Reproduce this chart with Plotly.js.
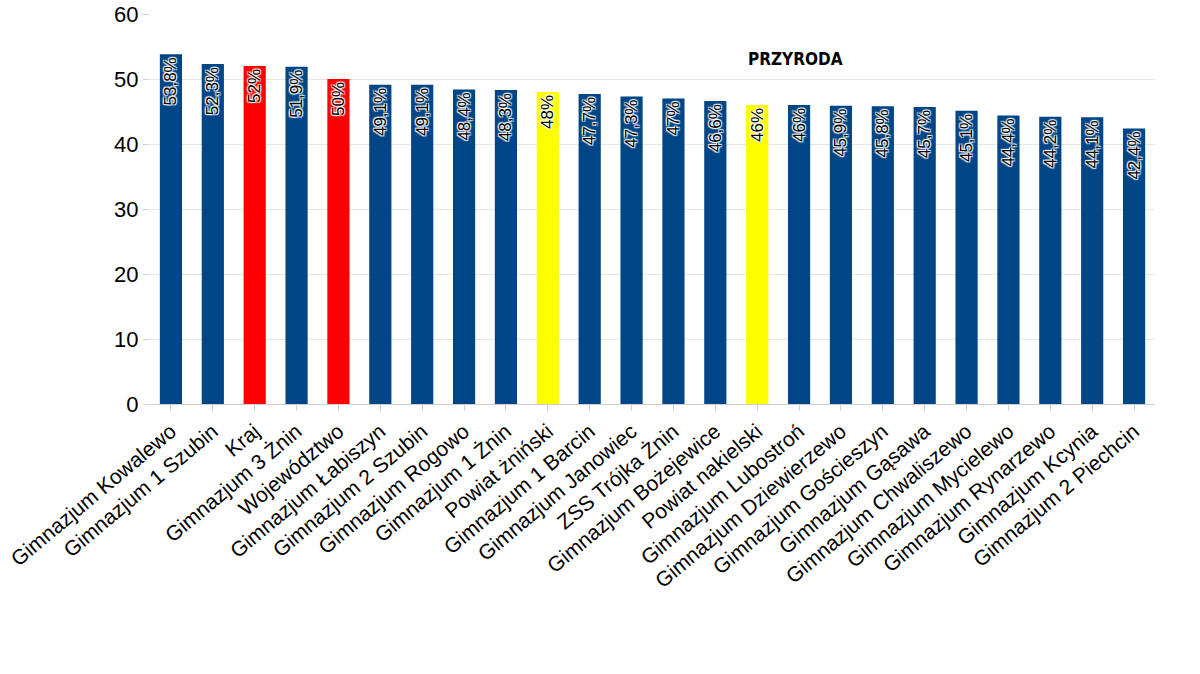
<!DOCTYPE html>
<html>
<head>
<meta charset="utf-8">
<script src="https://cdn.plot.ly/plotly-3.0.1.min.js"></script>
<style>body{margin:0;background:#fff}#plot{width:1200px;height:674px}</style>
</head>
<body>
<div id="plot"></div>
<script>
var categories = ["Gimnazjum Kowalewo", "Gimnazjum 1 Szubin", "Kraj", "Gimnazjum 3 Żnin", "Województwo",
  "Gimnazjum Łabiszyn", "Gimnazjum 2 Szubin", "Gimnazjum Rogowo", "Gimnazjum 1 Żnin", "Powiat żniński",
  "Gimnazjum 1 Barcin", "Gimnazjum Janowiec", "ZSS Trójka Żnin", "Gimnazjum Bożejewice", "Powiat nakielski",
  "Gimnazjum Lubostroń", "Gimnazjum Dziewierzewo", "Gimnazjum Gościeszyn", "Gimnazjum Gąsawa",
  "Gimnazjum Chwaliszewo", "Gimnazjum Mycielewo", "Gimnazjum Rynarzewo", "Gimnazjum Kcynia", "Gimnazjum 2 Piechcin"];
var values = [53.8, 52.3, 52, 51.9, 50, 49.1, 49.1, 48.4, 48.3, 48, 47.7, 47.3, 47, 46.6, 46, 46, 45.9, 45.8, 45.7, 45.1, 44.4, 44.2, 44.1, 42.4];
var blue = "#004586", red = "#ff0000", yellow = "#ffff00";
var colors = categories.map(function (c) {
  if (c == "Kraj" || c == "Województwo") return red;
  if (c.indexOf("Powiat") == 0) return yellow;
  return blue;
});
var labels = values.map(function (v) { return String(v).replace(".", ",") + "%"; });

var data = [{
  type: "bar", x: categories, y: values, marker: {color: colors},
  text: labels, textposition: "inside", insidetextanchor: "end", textangle: -90,
  constraintext: "none",
  textfont: {family: "Liberation Sans", size: 17, color: "#000", shadow: "1px 1px 1px #fff, -1px -1px 1px #fff, 1px -1px 1px #fff, -1px 1px 1px #fff"},
  hoverinfo: "x+y"
}];
var layout = {
  width: 1200, height: 674,
  margin: {l: 150, r: 45, t: 14, b: 270},
  bargap: 0.47,
  showlegend: false,
  paper_bgcolor: "#fff", plot_bgcolor: "#fff",
  font: {family: "Liberation Sans", color: "#000"},
  xaxis: {tickangle: -40, tickfont: {size: 21}, showline: true, linecolor: "#d0d0d0", ticks: "outside", ticklen: 6, tickcolor: "#d0d0d0"},
  yaxis: {range: [0, 60], dtick: 10, tickfont: {size: 22}, gridcolor: "#e6e6e6", zeroline: false, ticks: "outside", ticklen: 6, tickcolor: "#d0d0d0"},
  annotations: [{text: "<b>PRZYRODA</b>", x: 795, y: 47, xref: "paper", yref: "paper", showarrow: false,
    font: {family: "DejaVu Sans Condensed", size: 17}}]
};
layout.annotations[0].x = (795 - 150) / 1005;
layout.annotations[0].y = 1 - (47 - 14) / 390;
Plotly.newPlot("plot", data, layout, {displayModeBar: false});
</script>
</body>
</html>
